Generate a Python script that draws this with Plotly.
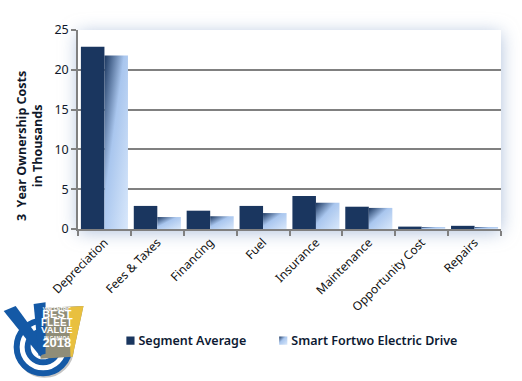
import plotly.graph_objects as go

categories = ["Depreciation", "Fees & Taxes", "Financing", "Fuel", "Insurance",
              "Maintenance", "Opportunity Cost", "Repairs"]
segment_average = [22.9, 2.9, 2.3, 2.9, 4.15, 2.8, 0.3, 0.4]
smart_fortwo = [21.8, 1.5, 1.6, 2.0, 3.3, 2.65, 0.15, 0.15]
y_ticks = [0, 5, 10, 15, 20, 25]
series_names = ["Segment Average", "Smart Fortwo Electric Drive"]

W, H = 522, 381
L, R, T, B = 77.5, 501.5, 29.5, 229.5
NAVY = "#1a365f"


def px(x):
    return (x - L) / (R - L)


def py(y):
    return (B - y) / (B - T)


fig = go.Figure()
fig.add_bar(x=categories, y=segment_average, name=series_names[0], marker=dict(color=NAVY, line_width=0))
fig.add_bar(x=categories, y=smart_fortwo, name=series_names[1], marker=dict(color="#a8c4ec", line_width=0))


def poly(points, fill, line=None, lw=0):
    d = "M" + " L".join(f"{px(a):.5f},{py(b):.5f}" for a, b in points) + " Z"
    return dict(type="path", xref="paper", yref="paper", path=d, fillcolor=fill,
                line=dict(color=line or fill, width=lw), layer="above")


def ring(cx, cy, r, color, lw, fill="rgba(0,0,0,0)"):
    return dict(type="circle", xref="paper", yref="paper",
                x0=px(cx - r), x1=px(cx + r), y0=py(cy + r), y1=py(cy - r),
                line=dict(color=color, width=lw), fillcolor=fill, layer="above")


BLUE = "#1459a6"
shapes = [
    ring(44, 349.5, 26.5, "#c4c4c4", 6),
    ring(42.5, 348, 26.5, BLUE, 6, "#ffffff"),
    ring(42.5, 348, 15.5, BLUE, 6, "#ffffff"),
    poly([(39, 309), (83, 307), (72, 358), (40, 360)], "#8f8d78"),
    poly([(68, 308), (83, 307), (72, 358), (70, 358)], "#e9c03f"),
    poly([(3, 312), (15, 307), (45, 348), (40, 358)], BLUE),
    poly([(33, 305), (45, 303), (45, 355), (38, 357)], BLUE),
]

logo_lines = [("VINCENTRIC", 4.6), ("BEST", 11), ("FLEET", 10), ("VALUE", 9.5),
              ("IN CANADA", 4.6), ("2018", 13)]
logo_text = "<br>".join(f"<span style='font-size:{size}px'><b>{text}</b></span>" for text, size in logo_lines)

annotations = [
    dict(text="3  Year Ownership Costs<br>in Thousands", textangle=-90, xref="paper", yref="paper",
         x=px(29.5), y=py(146), xanchor="center", yanchor="middle", showarrow=False, align="center",
         font=dict(family="Open Sans", size=12.5, color="#10182a", weight="bold")),
    dict(text=logo_text, xref="paper", yref="paper", x=px(56.5), y=py(329), xanchor="center", yanchor="middle",
         showarrow=False, align="center", font=dict(family="Liberation Sans", size=5.6, color="#ffffff")),
]

fig.update_layout(
    width=W, height=H, autosize=False,
    margin=dict(l=L, r=W - R, t=T, b=H - B, autoexpand=False),
    paper_bgcolor="#ffffff", plot_bgcolor="#ffffff",
    barmode="group", bargap=0.11, bargroupgap=0,
    shapes=shapes, annotations=annotations,
    legend=dict(orientation="h", x=px(98), xanchor="left", y=py(342), yanchor="middle",
                itemsizing="constant", tracegroupgap=0, itemwidth=30,
                bgcolor="rgba(0,0,0,0)",
                font=dict(family="Noto Sans", size=12.5, color="#0d1a33", weight=600)),
    xaxis=dict(type="category", tickson="boundaries", ticks="outside", ticklen=5, tickwidth=1.5,
               tickcolor="#808080", showline=True, linecolor="#808080", linewidth=1.5, showgrid=False,
               tickangle=-45, tickfont=dict(family="Noto Sans", size=12, color="#111111")),
    yaxis=dict(range=[0, 25], tickvals=y_ticks, ticks="outside", ticklen=5, tickwidth=1.5,
               tickcolor="#808080", showline=True, linecolor="#808080", linewidth=1.5,
               showgrid=True, gridcolor="#808080", gridwidth=1.5, zeroline=False,
               tickfont=dict(family="Noto Sans", size=12.5, color="#10182a")),
)

post = """
document.body.style.margin = '0';
var gd = document.getElementsByClassName('plotly-graph-div')[0];
function deco() {
  var NS = 'http://www.w3.org/2000/svg';
  var svg = gd.querySelector('svg.main-svg');
  if (!document.getElementById('lightbar')) {
    var defs = document.createElementNS(NS, 'defs');
    var g = document.createElementNS(NS, 'linearGradient');
    g.setAttribute('id', 'lightbar');
    g.setAttribute('x1', '0'); g.setAttribute('y1', '0'); g.setAttribute('x2', '1'); g.setAttribute('y2', '1');
    [['0', '#1a365f'], ['0.42', '#a9c6ee'], ['1', '#d9e8fb']].forEach(function (s) {
      var st = document.createElementNS(NS, 'stop');
      st.setAttribute('offset', s[0]); st.setAttribute('stop-color', s[1]);
      g.appendChild(st);
    });
    defs.appendChild(g); svg.insertBefore(defs, svg.firstChild);
  }
  var traces = gd.querySelectorAll('.barlayer .trace');
  traces[1].querySelectorAll('path').forEach(function (p) { p.style.setProperty('fill', 'url(#lightbar)'); });
  gd.querySelectorAll('.legend .traces').forEach(function (t, i) {
    t.querySelectorAll('.legendpoints path').forEach(function (p) {
      p.setAttribute('transform', 'translate(32,0) scale(0.68)');
      if (i === 1) { p.style.setProperty('fill', 'url(#lightbar)'); }
    });
  });
  if (!document.getElementById('plotshadow')) {
    var s = gd._fullLayout._size;
    var r = document.createElementNS(NS, 'rect');
    r.setAttribute('id', 'plotshadow');
    r.setAttribute('x', s.l); r.setAttribute('y', s.t);
    r.setAttribute('width', s.w); r.setAttribute('height', s.h);
    r.setAttribute('fill', '#ffffff');
    r.style.setProperty('filter', 'drop-shadow(0px 3px 9px rgba(120,150,195,0.6))');
    var first = svg.querySelector('.bglayer') || svg.querySelector('.cartesianlayer');
    svg.insertBefore(r, first);
  }
}
deco();
gd.on('plotly_afterplot', deco);
"""

fig.write_html("out.html", post_script=post, config={"displayModeBar": False})
